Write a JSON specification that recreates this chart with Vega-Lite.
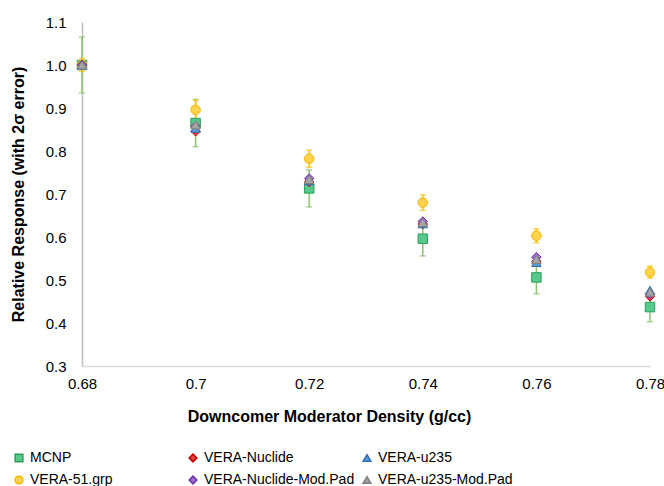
{
  "$schema": "https://vega.github.io/schema/vega-lite/v6.json",
  "width": 568,
  "height": 344,
  "autosize": "none",
  "padding": {"left": 82, "top": 22, "right": 14, "bottom": 120},
  "background": "white",
  "config": {
    "view": {"stroke": null},
    "font": "Liberation Sans"
  },
  "datasets": {
    "pts": [
      {"series": "MCNP", "x": 0.68, "y": 1.0, "lo": 0.935, "hi": 1.065},
      {"series": "MCNP", "x": 0.70, "y": 0.865, "lo": 0.81, "hi": 0.92},
      {"series": "MCNP", "x": 0.72, "y": 0.713, "lo": 0.67, "hi": 0.756},
      {"series": "MCNP", "x": 0.74, "y": 0.596, "lo": 0.556, "hi": 0.636},
      {"series": "MCNP", "x": 0.76, "y": 0.506, "lo": 0.468, "hi": 0.544},
      {"series": "MCNP", "x": 0.78, "y": 0.437, "lo": 0.403, "hi": 0.471},
      {"series": "VERA-51.grp", "x": 0.68, "y": 1.0, "lo": 0.985, "hi": 1.015},
      {"series": "VERA-51.grp", "x": 0.70, "y": 0.896, "lo": 0.874, "hi": 0.918},
      {"series": "VERA-51.grp", "x": 0.72, "y": 0.782, "lo": 0.762, "hi": 0.802},
      {"series": "VERA-51.grp", "x": 0.74, "y": 0.68, "lo": 0.662, "hi": 0.698},
      {"series": "VERA-51.grp", "x": 0.76, "y": 0.603, "lo": 0.587, "hi": 0.619},
      {"series": "VERA-51.grp", "x": 0.78, "y": 0.518, "lo": 0.504, "hi": 0.532},
      {"series": "VERA-Nuclide", "x": 0.68, "y": 1.0},
      {"series": "VERA-Nuclide", "x": 0.70, "y": 0.846},
      {"series": "VERA-Nuclide", "x": 0.72, "y": 0.728},
      {"series": "VERA-Nuclide", "x": 0.74, "y": 0.63},
      {"series": "VERA-Nuclide", "x": 0.76, "y": 0.543},
      {"series": "VERA-Nuclide", "x": 0.78, "y": 0.462},
      {"series": "VERA-u235", "x": 0.68, "y": 1.0},
      {"series": "VERA-u235", "x": 0.70, "y": 0.853},
      {"series": "VERA-u235", "x": 0.72, "y": 0.731},
      {"series": "VERA-u235", "x": 0.74, "y": 0.631},
      {"series": "VERA-u235", "x": 0.76, "y": 0.541},
      {"series": "VERA-u235", "x": 0.78, "y": 0.476},
      {"series": "VERA-Nuclide-Mod.Pad", "x": 0.68, "y": 1.0},
      {"series": "VERA-Nuclide-Mod.Pad", "x": 0.70, "y": 0.857},
      {"series": "VERA-Nuclide-Mod.Pad", "x": 0.72, "y": 0.736},
      {"series": "VERA-Nuclide-Mod.Pad", "x": 0.74, "y": 0.636},
      {"series": "VERA-Nuclide-Mod.Pad", "x": 0.76, "y": 0.553},
      {"series": "VERA-Nuclide-Mod.Pad", "x": 0.78, "y": 0.468},
      {"series": "VERA-u235-Mod.Pad", "x": 0.68, "y": 1.0},
      {"series": "VERA-u235-Mod.Pad", "x": 0.70, "y": 0.861},
      {"series": "VERA-u235-Mod.Pad", "x": 0.72, "y": 0.734},
      {"series": "VERA-u235-Mod.Pad", "x": 0.74, "y": 0.634},
      {"series": "VERA-u235-Mod.Pad", "x": 0.76, "y": 0.548},
      {"series": "VERA-u235-Mod.Pad", "x": 0.78, "y": 0.472}
    ]
  },
  "data": {"name": "pts"},
  "layer": [
    {
      "transform": [{"filter": "datum.series === 'MCNP'"}],
      "mark": {"type": "errorbar", "ticks": {"size": 6}, "color": "#8dc26f", "thickness": 1.5},
      "encoding": {
        "x": {"field": "x", "type": "quantitative"},
        "y": {"field": "lo", "type": "quantitative", "title": "Relative Response (with 2σ error)"},
        "y2": {"field": "hi"}
      }
    },
    {
      "transform": [{"filter": "datum.series === 'VERA-51.grp'"}],
      "mark": {"type": "errorbar", "ticks": {"size": 6}, "color": "#ffc000", "thickness": 1.5},
      "encoding": {
        "x": {"field": "x", "type": "quantitative"},
        "y": {"field": "lo", "type": "quantitative", "title": "Relative Response (with 2σ error)"},
        "y2": {"field": "hi"}
      }
    },
    {
      "mark": {"type": "point", "filled": true, "opacity": 1, "strokeWidth": 1},
      "encoding": {
        "x": {
          "field": "x", "type": "quantitative",
          "scale": {"domain": [0.68, 0.78], "nice": false, "zero": false},
          "axis": {
            "values": [0.68, 0.70, 0.72, 0.74, 0.76, 0.78],
            "format": "~g",
            "grid": false, "ticks": false, "domainColor": "#d9d9d9", "domainWidth": 1.5,
            "labelFontSize": 15, "labelColor": "#000000", "labelPadding": 10, "labelFlush": false,
            "labelFont": "Liberation Sans",
            "title": "Downcomer Moderator Density (g/cc)",
            "titleFontSize": 16, "titleFontWeight": "bold", "titleColor": "#000000",
            "titleFont": "Liberation Sans",
            "titleX": 247, "titleY": 42, "titleAnchor": "middle"
          }
        },
        "y": {
          "field": "y", "type": "quantitative",
          "title": "Relative Response (with 2σ error)",
          "scale": {"domain": [0.3, 1.1], "nice": false, "zero": false},
          "axis": {
            "values": [0.3, 0.4, 0.5, 0.6, 0.7, 0.8, 0.9, 1.0, 1.1],
            "format": ".1f",
            "grid": false, "ticks": false, "domainColor": "#bfbfbf", "domainWidth": 1.5,
            "labelFontSize": 15, "labelColor": "#000000", "labelPadding": 16,
            "labelFont": "Liberation Sans",
            "title": "Relative Response (with 2σ error)",
            "titleFontSize": 16, "titleFontWeight": "bold", "titleColor": "#000000",
            "titleFont": "Liberation Sans",
            "titleX": -56, "titleY": 172
          }
        },
        "color": {
          "field": "series", "type": "nominal",
          "scale": {
            "domain": ["MCNP", "VERA-51.grp", "VERA-Nuclide", "VERA-Nuclide-Mod.Pad", "VERA-u235", "VERA-u235-Mod.Pad"],
            "range": ["#55c98a", "#ffd24d", "#e0433d", "#9b72cf", "#5b9bd5", "#a5a5a5"]
          },
          "legend": {
            "orient": "none", "legendX": -70, "legendY": 429,
            "columns": 3, "gridAlign": "all", "columnPadding": 5, "rowPadding": 8,
            "title": null, "labelFontSize": 14, "labelColor": "#000000",
            "labelFont": "Liberation Sans", "symbolSize": 60, "labelOffset": 4, "labelLimit": 300
          }
        },
        "stroke": {
          "field": "series", "type": "nominal",
          "scale": {
            "domain": ["MCNP", "VERA-51.grp", "VERA-Nuclide", "VERA-Nuclide-Mod.Pad", "VERA-u235", "VERA-u235-Mod.Pad"],
            "range": ["#2e9d5b", "#f2b600", "#c00000", "#7030a0", "#2f6fb5", "#7f7f7f"]
          },
          "legend": null
        },
        "shape": {
          "field": "series", "type": "nominal",
          "scale": {
            "domain": ["MCNP", "VERA-51.grp", "VERA-Nuclide", "VERA-Nuclide-Mod.Pad", "VERA-u235", "VERA-u235-Mod.Pad"],
            "range": ["square", "circle", "diamond", "diamond", "triangle-up", "triangle-up"]
          },
          "legend": null
        },
        "size": {"value": 90},
        "order": {"field": "series", "sort": "ascending"}
      }
    }
  ]
}
